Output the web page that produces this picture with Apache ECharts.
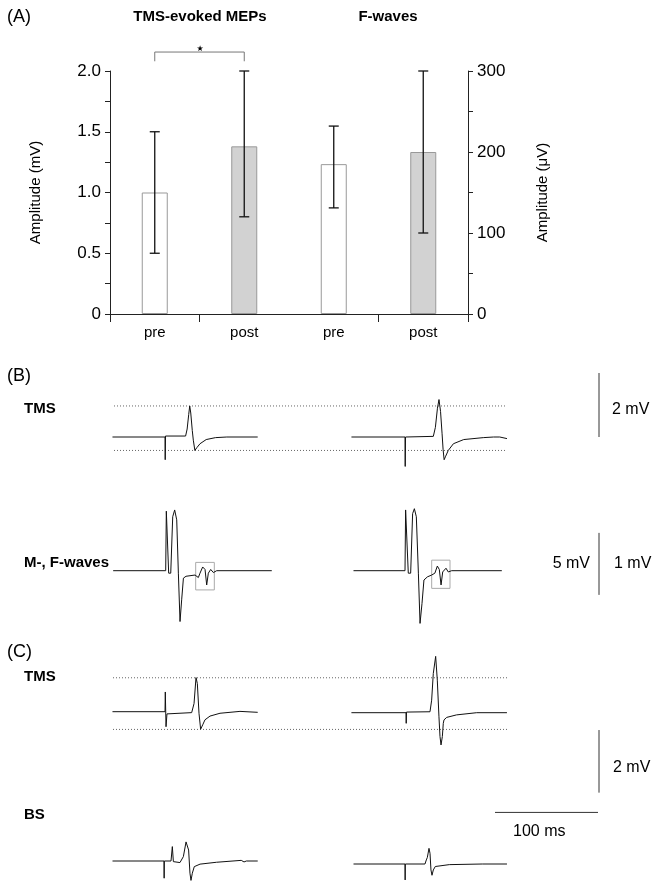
<!DOCTYPE html>
<html>
<head>
<meta charset="utf-8">
<script src="https://cdn.jsdelivr.net/npm/echarts@6/dist/echarts.min.js"></script>
<style>
  html, body { margin: 0; padding: 0; background: #fff; }
  #chart { width: 652px; height: 882px; }
</style>
</head>
<body>
<div id="chart"></div>
<script>
// ---- (A) bar chart data ----
const categories = ['pre', 'post', 'pre', 'post'];
const mepMean = [1.0, 1.38, '-', '-'];          // mV
const fwMean = ['-', '-', 185, 200];            // µV
const mepErr = [[0, 0.5, 1.5], [1, 0.8, 2.0]];  // [category, low, high]
const fwErr = [[2, 131, 232], [3, 100, 300]];
const sigBracket = [[0, 2.08], [0, 2.156], [1, 2.156], [1, 2.08]];

// ---- traces: [ms after stimulus, mV] ----
const bTmsPre = [[-51, 0], [0, 0], [0.2, -0.71], [0.5, 0.03], [20, 0.03], [21.5, 0.25], [23, 0.7], [24, 0.97],
  [25, 0.75], [26.5, 0.2], [27.5, -0.1], [29, -0.42], [31, -0.33], [34, -0.21], [40, -0.08], [49, -0.02], [60, 0], [90, 0]];
const bTmsPost = [[-52, 0], [0, 0], [0.2, -0.92], [0.5, 0], [27.5, 0.02], [29.5, 0.3], [31.5, 0.9], [33, 1.17],
  [34.5, 0.8], [36, 0.1], [37, -0.4], [38, -0.71], [39.5, -0.6], [42, -0.42], [47, -0.21], [57, -0.08], [76, -0.02],
  [86, 0], [92, 0], [99, -0.05]];
const bMfPre = [[-51, 0], [0, 0], [0.6, 0.96], [2, 0.95], [2.9, -0.04], [4.9, -0.04], [6.8, 0.87], [8.7, 0.98],
  [10.7, 0.82], [12.3, -0.04], [13.9, -0.82], [15.5, -0.47], [17.2, -0.12], [19.7, -0.09], [28.5, -0.07],
  [31.7, -0.11], [33.3, -0.04], [35.9, 0.06], [38.2, 0.02], [39.8, -0.23], [41.4, -0.04], [43.7, 0.02],
  [46.3, -0.03], [49.5, 0], [103, 0]];
const bMfPost = [[-50, 0], [0, 0], [0.6, 0.98], [2.2, 0.97], [3.2, -0.04], [5.5, -0.04], [7.4, 0.92], [9.1, 1.0],
  [11, 0.87], [13, -0.04], [14.6, -0.85], [16.5, -0.53], [18.4, -0.15], [21.7, -0.1], [25.9, -0.07], [29, -0.04],
  [31.4, 0.075], [33.3, 0.02], [35, -0.23], [36.6, -0.02], [39.8, 0.04], [42, -0.02], [45.3, 0], [94, 0]];
const fBoxPre = [[29.1, 0.134], [47.2, -0.31]];
const fBoxPost = [[25.9, 0.17], [43.7, -0.285]];
const cTmsPre = [[-51, 0], [0, 0], [0.3, 0.63], [1, -0.48], [1.9, -0.07], [25.9, -0.03], [28.2, 0.26], [30.1, 1.09],
  [31.4, 0.9], [33, -0.05], [34.6, -0.56], [36.6, -0.42], [38.8, -0.26], [43.7, -0.14], [53.4, -0.05],
  [72.8, 0.01], [90, -0.02]];
const cTmsPost = [[-53, 0], [0, 0], [0.2, -0.34], [0.5, 0.02], [23.3, 0.03], [24.9, 0.4], [26.5, 1.25], [28.8, 1.8],
  [30.4, 1.04], [32, -0.13], [33, -0.76], [34, -1.03], [35.3, -0.76], [36.2, -0.34], [36.9, -0.23], [39.5, -0.15],
  [49, -0.07], [68.6, 0], [98, 0]];
const cBsPre = [[-50, 0], [0, 0], [0.15, -0.55], [0.3, 0], [6.8, 0], [8.1, 0.46], [9.1, -0.02], [10.7, -0.07],
  [15.5, -0.05], [18.8, 0.14], [21.4, 0.61], [22.7, 0.67], [23.9, 0.35], [25.2, -0.39], [26.2, -0.62],
  [27.5, -0.39], [29.4, -0.18], [35, -0.1], [51, -0.04], [75, 0.02], [77.7, -0.03], [80, 0], [91, 0]];
const cBsPost = [[-50, 0], [0, 0], [0.15, -0.51], [0.3, 0], [19.4, 0], [20.7, 0.13], [21.7, 0.21], [22.3, 0.18],
  [23.3, 0.5], [24.3, 0.34], [25.2, -0.19], [26.2, -0.36], [27.5, -0.19], [29.4, -0.08], [43, -0.02], [75, 0], [99, 0]];

// amplitude of the pre MEP, drawn as dotted guide lines
const bLevels = [0.97, -0.42];
const cLevels = [1.10, -0.55];

// ---- layout of the trace rows ----
const PX_PER_MS = 1.03;
const FONT = '"Liberation Sans", Arial, sans-serif';
const rows = [
  { top: 350, bottom: 480, base: 437, ppm: 32 },    // B TMS
  { top: 490, bottom: 640, base: 570.7, ppm: 62 },  // B M-, F-waves
  { top: 655, bottom: 800, base: 712.2, ppm: 31.3 },// C TMS
  { top: 800, bottom: 882, base: 862.5, ppm: 31.3 } // C BS
];
const ms = px => px / PX_PER_MS;

const grids = [{ left: 110, right: 184, top: 71, bottom: 568 }];
const xAxes = [{
  type: 'category', data: categories, gridIndex: 0,
  axisLine: { lineStyle: { color: '#222' } },
  axisTick: { show: true, length: 8, lineStyle: { color: '#222' }, interval: (i) => i !== 2 },
  axisLabel: { color: '#000', fontSize: 15, fontFamily: FONT, margin: 11 },
  splitLine: { show: true, interval: (i) => i === 2, lineStyle: { color: '#777', type: [1, 2] } }
}];
const yAxes = [{
  type: 'value', gridIndex: 0, min: 0, max: 2, interval: 0.25, position: 'left',
  name: 'Amplitude (mV)', nameLocation: 'middle', nameGap: 67, nameRotate: 90,
  nameTextStyle: { color: '#000', fontSize: 15, fontFamily: FONT },
  axisLine: { show: true, lineStyle: { color: '#222' } },
  axisTick: { show: true, length: 5, lineStyle: { color: '#222' } },
  axisLabel: {
    color: '#000', fontSize: 17, fontFamily: FONT, margin: 9,
    formatter: v => (Math.round(v * 100) % 50 === 0 ? (v === 0 ? '0' : v.toFixed(1)) : '')
  },
  splitLine: { show: false }
}, {
  type: 'value', gridIndex: 0, min: 0, max: 300, interval: 50, position: 'right',
  name: 'Amplitude (\u03bcV)', nameLocation: 'middle', nameGap: 67, nameRotate: 90,
  nameTextStyle: { color: '#000', fontSize: 15, fontFamily: FONT },
  axisLine: { show: true, lineStyle: { color: '#222' } },
  axisTick: { show: true, length: 5, lineStyle: { color: '#222' } },
  axisLabel: {
    color: '#000', fontSize: 17, fontFamily: FONT, margin: 9,
    formatter: v => (v % 100 === 0 ? String(v) : '')
  },
  splitLine: { show: false }
}];

// one hidden grid per trace row: x in ms, y in mV
rows.forEach((r, i) => {
  grids.push({ left: 0, width: 652, top: r.top, height: r.bottom - r.top });
  xAxes.push({ type: 'value', gridIndex: i + 1, min: 0, max: ms(652), show: false });
  yAxes.push({
    type: 'value', gridIndex: i + 1, show: false,
    min: -(r.bottom - r.base) / r.ppm, max: (r.base - r.top) / r.ppm
  });
});
// grid 0 owns two y axes, so row axes are offset
const axisIdx = row => ({ xAxisIndex: row + 1, yAxisIndex: row + 2 });

const barColors = ['#ffffff', '#d2d2d2', '#ffffff', '#d2d2d2'];
const barItems = arr => arr.map((v, i) => ({
  value: v, itemStyle: { color: barColors[i], borderColor: '#999', borderWidth: 1 }
}));

const errRender = (params, api) => {
  const lo = api.coord([api.value(0), api.value(1)]);
  const hi = api.coord([api.value(0), api.value(2)]);
  const st = { stroke: '#111', lineWidth: 1.3 };
  const w = 5;
  return {
    type: 'group', children: [
      { type: 'line', shape: { x1: lo[0], y1: lo[1], x2: hi[0], y2: hi[1] }, style: st },
      { type: 'line', shape: { x1: lo[0] - w, y1: lo[1], x2: lo[0] + w, y2: lo[1] }, style: st },
      { type: 'line', shape: { x1: hi[0] - w, y1: hi[1], x2: hi[0] + w, y2: hi[1] }, style: st }
    ]
  };
};

const series = [
  { type: 'bar', xAxisIndex: 0, yAxisIndex: 0, data: barItems(mepMean), barWidth: 26, barGap: '-100%', silent: true },
  { type: 'bar', xAxisIndex: 0, yAxisIndex: 1, data: barItems(fwMean), barWidth: 26, barGap: '-100%', silent: true },
  { type: 'custom', xAxisIndex: 0, yAxisIndex: 0, data: mepErr, renderItem: errRender, z: 5 },
  { type: 'custom', xAxisIndex: 0, yAxisIndex: 1, data: fwErr, renderItem: errRender, z: 5 },
  {
    type: 'line', xAxisIndex: 0, yAxisIndex: 0, data: sigBracket, clip: false, symbol: 'none',
    lineStyle: { color: '#777', width: 1 }
  }
];

// place a trace with its stimulus at a given x (px) and optional baseline shift (px)
const trace = (row, data, stimPx, dyPx) => {
  const r = rows[row];
  return Object.assign({
    type: 'line', symbol: 'none', clip: false,
    data: data.map(p => [ms(stimPx) + p[0], p[1] + (dyPx || 0) / r.ppm]),
    lineStyle: { color: '#111', width: 1 }, z: 4
  }, axisIdx(row));
};
const guide = (row, level, x1, x2) => Object.assign({
  type: 'line', symbol: 'none', clip: false,
  data: [[ms(x1), level], [ms(x2), level]],
  lineStyle: { color: '#666', width: 1, type: [1, 2] }, z: 2
}, axisIdx(row));
const scaleBar = (row, pts) => Object.assign({
  type: 'line', symbol: 'none', clip: false,
  data: pts, lineStyle: { color: '#333', width: 1 }, z: 3
}, axisIdx(row));
const box = (row, b, stimPx) => {
  const x1 = ms(stimPx) + b[0][0], x2 = ms(stimPx) + b[1][0];
  return Object.assign({
    type: 'line', symbol: 'none', clip: false,
    data: [[x1, b[0][1]], [x2, b[0][1]], [x2, b[1][1]], [x1, b[1][1]], [x1, b[0][1]]],
    lineStyle: { color: '#aaa', width: 1 }, z: 3
  }, axisIdx(row));
};

bLevels.forEach(l => series.push(guide(0, l, 114, 507)));
cLevels.forEach(l => series.push(guide(2, l, 113, 507)));
series.push(
  trace(0, bTmsPre, 165), trace(0, bTmsPost, 405),
  trace(1, bMfPre, 165.7), trace(1, bMfPost, 405),
  box(1, fBoxPre, 165.7), box(1, fBoxPost, 405),
  trace(2, cTmsPre, 165, 0.5), trace(2, cTmsPost, 406, -0.5),
  trace(3, cBsPre, 164, 1.5), trace(3, cBsPost, 405, -1.5),
  scaleBar(0, [[ms(599), 0], [ms(599), 2]]),
  scaleBar(1, [[ms(599), -0.39], [ms(599), 0.61]]),
  scaleBar(2, [[ms(599), -0.57], [ms(599), -2.57]]),
  scaleBar(3, [[ms(495), 1.6], [ms(495) + 100, 1.6]])
);

const txt = (x, y, text, size, bold, align) => ({
  type: 'text', x: x, y: y, silent: true,
  style: {
    text: text, fill: '#000', textAlign: align || 'left', textVerticalAlign: 'middle',
    font: (bold ? 'bold ' : '') + size + 'px ' + FONT
  }
});

const chart = echarts.init(document.getElementById('chart'));
chart.setOption({
  animation: false,
  backgroundColor: '#fff',
  grid: grids,
  xAxis: xAxes,
  yAxis: yAxes,
  series: series,
  graphic: [
    txt(7, 17, '(A)', 18),
    txt(200, 17, 'TMS-evoked MEPs', 15, true, 'center'),
    txt(388, 17, 'F-waves', 15, true, 'center'),
    {
      type: 'text', x: 200, y: 49, silent: true,
      style: { text: '\u2605', fill: '#000', textAlign: 'center', textVerticalAlign: 'middle', font: '8px "DejaVu Sans"' }
    },
    txt(7, 376, '(B)', 18),
    txt(24, 409, 'TMS', 15, true),
    txt(24, 563, 'M-, F-waves', 15, true),
    txt(612, 410, '2 mV', 16),
    txt(590, 564, '5 mV', 16, false, 'right'),
    txt(614, 564, '1 mV', 16),
    txt(7, 652, '(C)', 18),
    txt(24, 677, 'TMS', 15, true),
    txt(613, 768, '2 mV', 16),
    txt(24, 815, 'BS', 15, true),
    txt(513, 832, '100 ms', 16)
  ]
});
</script>
</body>
</html>
